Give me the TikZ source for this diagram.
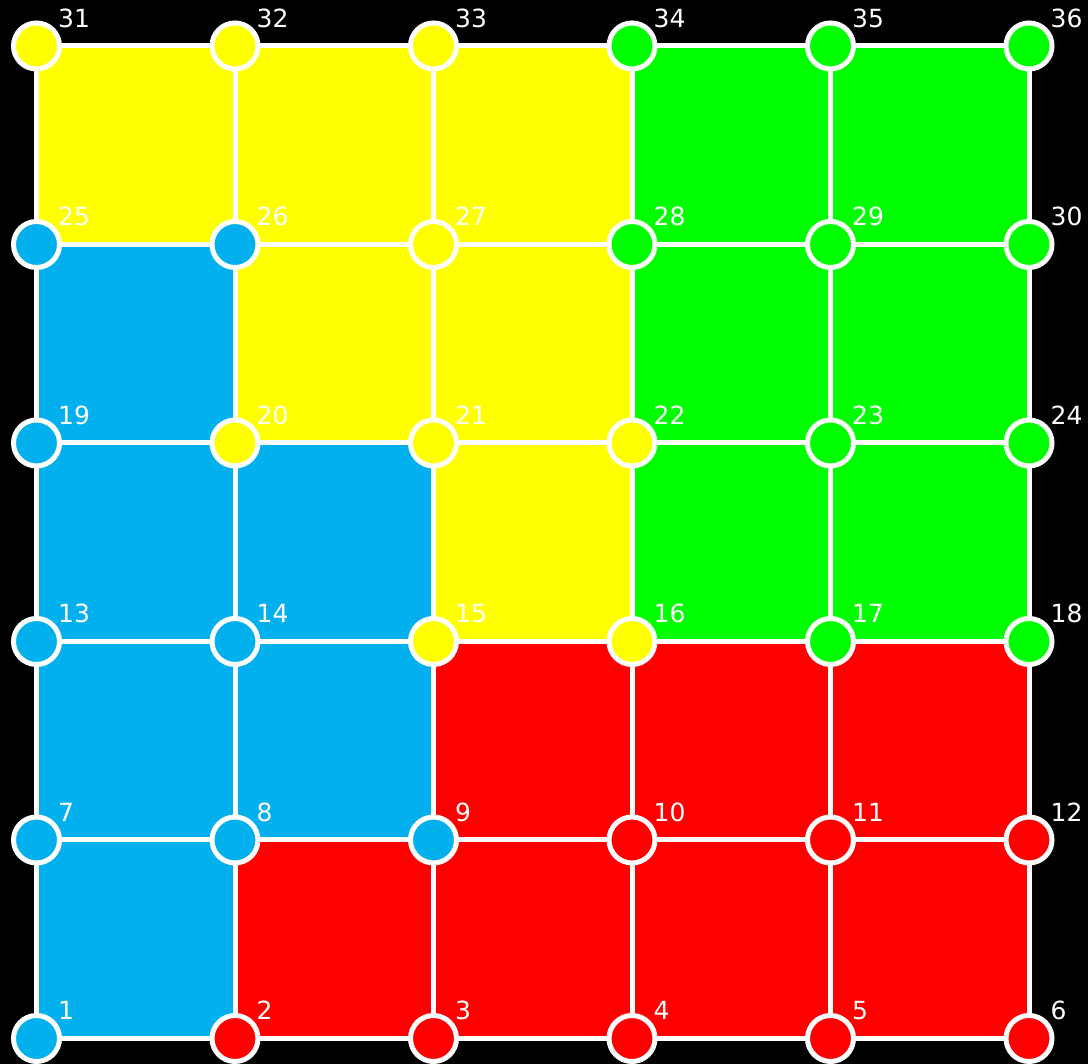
\documentclass[tikz,border=0pt]{standalone}
\usepackage{fontspec}
\setmainfont{DejaVu Sans}
\definecolor{cb}{HTML}{03B0EE}
\definecolor{cy}{HTML}{FFFF00}
\definecolor{cg}{HTML}{00FF00}
\definecolor{cr}{HTML}{FF0000}
\pgfdeclarelayer{back}
\pgfdeclarelayer{mid}
\pgfsetlayers{back,mid,main}
\begin{document}
\begin{tikzpicture}[x=1pt,y=1pt,
  vtx/.style={circle,draw=white,line width=5pt,minimum size=46pt,inner sep=0pt},
  edge/.style={draw=white,line width=5pt},
  lbl/.style={text=white,font=\fontsize{25}{25}\selectfont,anchor=base west,inner sep=0pt}]
\useasboundingbox (0,0) rectangle (1088,1064);
% nodes
\foreach \r/\cols in {0/{cb,cr,cr,cr,cr,cr},1/{cb,cb,cb,cr,cr,cr},2/{cb,cb,cy,cy,cg,cg},3/{cb,cy,cy,cy,cg,cg},4/{cb,cb,cy,cg,cg,cg},5/{cy,cy,cy,cg,cg,cg}}{
  \foreach \col [count=\ci from 0] in \cols {
    \pgfmathtruncatemacro{\idx}{6*\r+\ci+1}
    \pgfmathsetmacro{\xx}{36.5+198.5*\ci}
    \pgfmathsetmacro{\yy}{25.5+198.5*\r}
    \node[vtx,fill=\col] (n\idx) at (\xx,\yy) {};
    \node[lbl] (l\idx) at (\xx+21.5,\yy+18.5) {\idx};
  }
}
\begin{pgfonlayer}{back}
\fill[black] (0,0) rectangle (1088,1064);
\foreach \a/\b/\col in {
  1/8/cb,2/9/cr,3/10/cr,4/11/cr,5/12/cr,
  7/14/cb,8/15/cb,9/16/cr,10/17/cr,11/18/cr,
  13/20/cb,14/21/cb,15/22/cy,16/23/cg,17/24/cg,
  19/26/cb,20/27/cy,21/28/cy,22/29/cg,23/30/cg,
  25/32/cy,26/33/cy,27/34/cy,28/35/cg,29/36/cg}{
  \fill[\col] (n\a.center) rectangle (n\b.center);
}
\end{pgfonlayer}
\begin{pgfonlayer}{mid}
\foreach \r in {0,...,5}{
  \foreach \c in {0,...,4}{
    \pgfmathtruncatemacro{\a}{6*\r+\c+1}
    \pgfmathtruncatemacro{\b}{\a+1}
    \draw[edge] (n\a.center) -- (n\b.center);
  }
}
\foreach \r in {0,...,4}{
  \foreach \c in {0,...,5}{
    \pgfmathtruncatemacro{\a}{6*\r+\c+1}
    \pgfmathtruncatemacro{\b}{\a+6}
    \draw[edge] (n\a.center) -- (n\b.center);
  }
}
\end{pgfonlayer}
\end{tikzpicture}
\end{document}
